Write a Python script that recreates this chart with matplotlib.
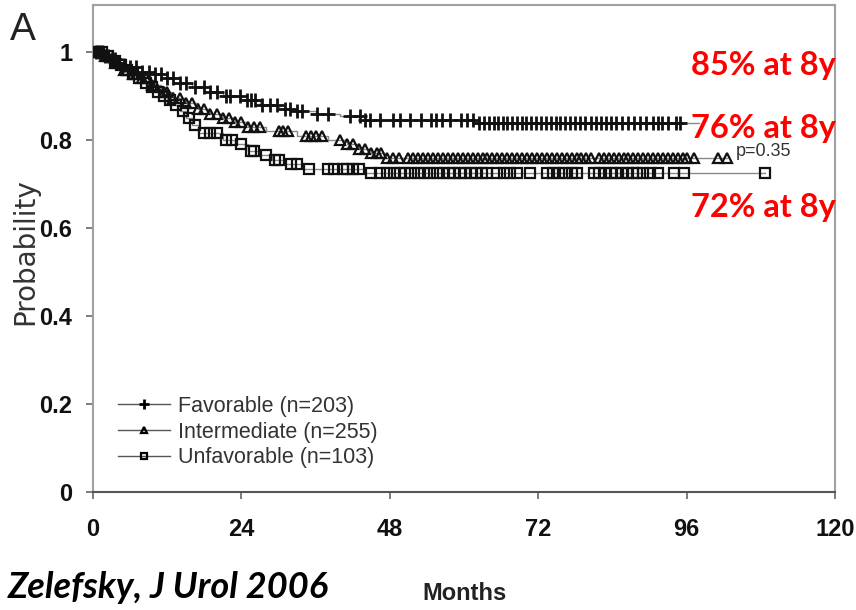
import numpy as np
import matplotlib
matplotlib.use("Agg")
import matplotlib.pyplot as plt

# ---------------- data ----------------
groups = ["Favorable (n=203)", "Intermediate (n=255)", "Unfavorable (n=103)"]

fav_event_t = [0, 2, 3, 4, 5, 6, 8, 10, 12, 14, 16, 19, 21, 24, 27, 30, 33, 36, 40, 44, 62]
fav_surv    = [1.0, 0.99, 0.985, 0.975, 0.97, 0.965, 0.955, 0.95, 0.94, 0.93, 0.92, 0.91,
               0.90, 0.89, 0.88, 0.87, 0.865, 0.86, 0.855, 0.845, 0.838]
fav_end = 98
fav_censor = [0.5, 1, 1.5, 2, 2.5, 3, 3.5, 4, 5, 6, 7, 8, 9, 10, 11, 12, 13, 14, 15, 16.5,
              18, 19, 20, 21.5, 22.2, 23.8, 24.9, 25.5, 26.2, 27.3, 28.6, 29.8, 31, 31.9, 33,
              33.8, 36.2, 38, 41.6, 43.2, 44, 44.8, 46.4, 48.5, 49.7, 51.3, 53, 54.6, 55.5,
              56.5, 57.8, 59.5, 60.5, 61.5, 62.5, 63.3, 64, 64.8, 65.5, 66.3, 67, 67.8, 68.6,
              69.3, 70, 70.8, 71.6, 72.4, 73.2, 74, 74.8, 75.6, 76.4, 77.2, 78, 78.8, 79.6,
              80.5, 81.3, 82.1, 83, 83.8, 84.6, 85.5, 86.5, 87.5, 88.5, 89.5, 90.6, 91.3, 92,
              93, 94.3, 95]

int_event_t = [0, 1.5, 3, 4.5, 6, 7.5, 9, 11, 13, 15, 17, 19, 21, 23, 25, 28, 33, 38, 41, 43, 45, 47]
int_surv    = [1.0, 0.99, 0.975, 0.96, 0.95, 0.94, 0.925, 0.91, 0.895, 0.885, 0.87, 0.86,
               0.85, 0.84, 0.83, 0.82, 0.81, 0.80, 0.79, 0.78, 0.77, 0.76]
int_end = 102.6
int_censor = [0.5, 1, 2, 2.5, 3.5, 4, 5, 5.5, 6.5, 7, 8, 8.5, 9.5, 10, 11.5, 12, 13, 14, 15,
              16, 17, 18, 19, 20, 21, 22, 23, 24, 25, 26, 27, 30, 30.8, 31.6, 34.5, 35.3, 36,
              37, 40, 41, 42, 43, 44, 45, 46, 46.5, 47.5, 48.5, 49.5, 51, 51.8, 52.6, 53.4,
              54.2, 55, 55.8, 56.6, 57.4, 58.2, 59, 59.8, 60.6, 61.4, 62.2, 63, 63.8, 64.6,
              65.4, 66.2, 67, 67.8, 68.6, 69.4, 70.2, 71, 71.8, 72.6, 73.4, 74.2, 75, 75.8,
              76.6, 77.4, 78.2, 79, 79.8, 80.5, 81.8, 82.6, 83.4, 84.2, 85, 85.8, 86.6, 87.4,
              88.2, 89, 89.8, 90.6, 91.4, 92.2, 93, 93.8, 94.6, 95.4, 96, 97.2, 101, 102.5]

unf_event_t = [0, 2, 3, 4, 5, 6, 7, 8, 9, 10, 11, 12, 13, 14, 15, 16, 17, 21, 23, 25, 27, 29, 31, 34, 44]
unf_surv    = [1.0, 0.99, 0.98, 0.97, 0.96, 0.95, 0.94, 0.93, 0.92, 0.91, 0.90, 0.89, 0.88,
               0.865, 0.85, 0.835, 0.815, 0.80, 0.79, 0.775, 0.765, 0.755, 0.745, 0.735, 0.725]
unf_end = 108.7
unf_censor = [0.5, 1, 1.5, 2.5, 3.5, 4.5, 5.5, 6.5, 7.5, 8.5, 9.5, 10.5, 11.5, 12.5, 13.5,
              14.5, 15.5, 16.5, 18, 19, 20, 21.5, 22.5, 24, 25.5, 26, 28, 29.5, 30, 32, 33,
              35, 38, 39, 40.5, 41, 42, 43, 45, 46.4, 47.5, 48.6, 49.7, 50.5, 51.5, 52.5,
              53.5, 54.5, 55.7, 56.6, 57.5, 58.4, 59.3, 60.2, 61.1, 62, 62.9, 63.8, 65.4,
              66.4, 67.5, 68.6, 70.7, 73.5, 74.4, 75.4, 76.4, 77.4, 78.3, 81, 81.9, 82.8,
              83.7, 84.6, 85.5, 86.5, 87.4, 88, 89, 90.1, 91.3, 93.9, 95.5, 108.7]

x_ticks = [0, 24, 48, 72, 96, 120]
y_ticks = [0, 0.2, 0.4, 0.6, 0.8, 1.0]
y_ticklabels = ["0", "0.2", "0.4", "0.6", "0.8", "1"]
annotations = ["85% at 8y", "76% at 8y", "72% at 8y"]
p_text = "p=0.35"

# ---------------- figure ----------------
narrow = ["Liberation Sans Narrow", "Liberation Sans", "DejaVu Sans"]

fig = plt.figure(figsize=(8.56, 6.10), dpi=100)
W, H = 856, 610
ax = fig.add_axes([93 / W, 1 - 492 / H, (835 - 93) / W, (492 - 5) / H])
ax.set_xlim(0, 120)
ax.set_ylim(0, (492 - 5) / 440)

def km(ax, et, sv, end, cens, marker, ms, mew, label):
    t = list(et) + [end]
    s = list(sv) + [sv[-1]]
    ax.step(t, s, where="post", color="#8a8a8a", lw=1.0, zorder=2)
    et_arr = np.array(et)
    sv_arr = np.array(sv)
    c = np.array(cens)
    idx = np.searchsorted(et_arr, c, side="right") - 1
    cy = sv_arr[idx]
    ax.plot(c, cy, ls="none", marker=marker, ms=ms, mec="#111111", mfc="none",
            mew=mew, zorder=3)
    # legend proxy
    ax.plot([], [], color="#555555", lw=1.0, marker=marker, ms=ms * 0.7,
            mec="black", mfc="none", mew=mew, label=label)

km(ax, fav_event_t, fav_surv, fav_end, fav_censor, "+", 10, 2.0, groups[0])
km(ax, int_event_t, int_surv, int_end, int_censor, "^", 7, 1.6, groups[1])
km(ax, unf_event_t, unf_surv, unf_end, unf_censor, "s", 7, 1.6, groups[2])

ax.text(103.9, 0.775, p_text, fontsize=13, color="#333333", family=narrow,
        ha="left", va="center")

# axes styling
for side in ["top", "right", "left"]:
    ax.spines[side].set_color("#a0a0a0")
    ax.spines[side].set_linewidth(1.5)
ax.spines["bottom"].set_color("#555555")
ax.spines["bottom"].set_linewidth(1.5)

ax.set_xticks(x_ticks)
ax.set_xticklabels([str(v) for v in x_ticks])
ax.set_yticks(y_ticks)
ax.set_yticklabels(y_ticklabels)
ax.tick_params(axis="both", direction="out", length=5, width=1.2, color="#666666",
               labelsize=17, labelcolor="#111111")
ax.tick_params(axis="x", pad=14)
ax.tick_params(axis="y", pad=10)
for lab in ax.get_xticklabels() + ax.get_yticklabels():
    lab.set_family(narrow)
    lab.set_fontweight("bold")

leg = ax.legend(loc="upper left", bbox_to_anchor=((118 - 93) / 742, (492 - 396) / 487),
                frameon=False, handlelength=2.4, handletextpad=0.37,
                labelspacing=0.21, borderpad=0, borderaxespad=0,
                prop={"family": narrow, "size": 15.5})
for t in leg.get_texts():
    t.set_color("#333333")

# labels
fig.text(25 / W, 1 - 252 / H, "Probability", rotation=90, fontsize=20,
         family=["DejaVu Sans"], color="#333333", ha="center", va="center")
fig.text(465 / W, 1 - 593 / H, "Months", fontsize=17, fontweight="bold",
         family=narrow, color="#222222", ha="center", va="center")
fig.text(10 / W, 1 - 30 / H, "A", fontsize=28, family=["Liberation Sans", "DejaVu Sans"],
         color="#222222", ha="left", va="center")
fig.text(8 / W, 1 - 587 / H, "Zelefsky, J Urol 2006", fontsize=26, fontweight="bold",
         style="italic", family=["Lato", "DejaVu Sans"], color="black",
         ha="left", va="center")

ann_y = [65, 128, 208]
for txt, yy in zip(annotations, ann_y):
    fig.text(836 / W, 1 - yy / H, txt, fontsize=23.5, fontweight="bold", color="#ff0000",
             family=["Lato", "DejaVu Sans"], ha="right", va="center", zorder=10)

fig.savefig("out.png", dpi=100)
